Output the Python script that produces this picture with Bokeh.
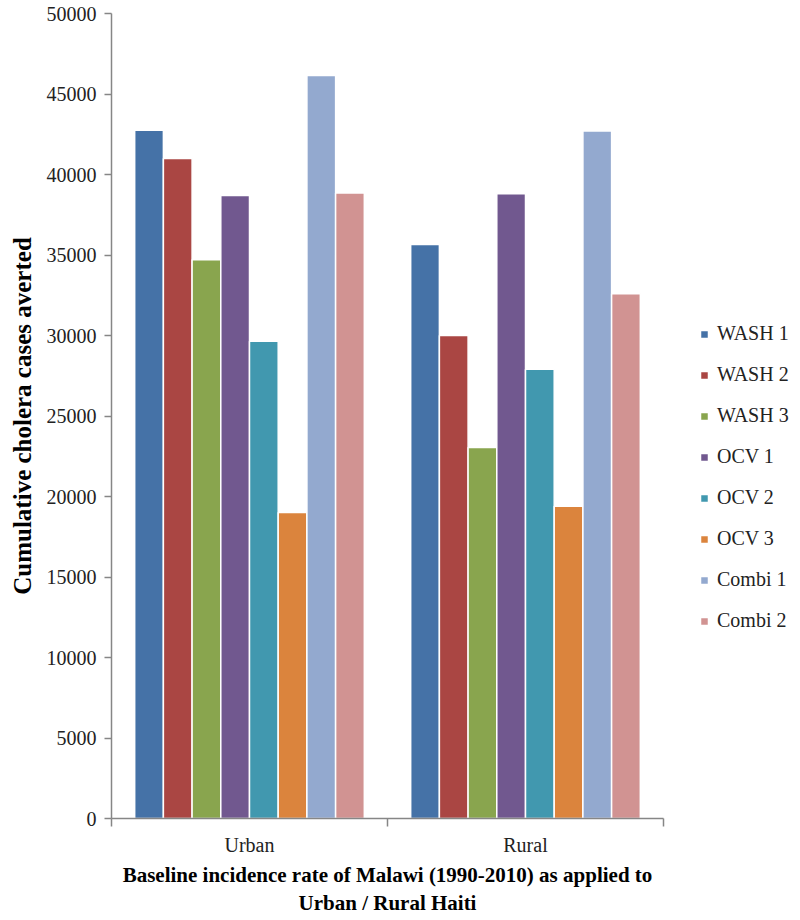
from bokeh.plotting import figure
from bokeh.models import Range1d, FixedTicker, Legend, LegendItem, ColumnDataSource
from bokeh.embed import file_html
from bokeh.resources import INLINE

categories = ["Urban", "Rural"]
series = ["WASH 1", "WASH 2", "WASH 3", "OCV 1", "OCV 2", "OCV 3", "Combi 1", "Combi 2"]
urban = [42750, 41000, 34700, 38700, 29650, 19000, 46150, 38850]
rural = [35650, 30000, 23050, 38800, 27900, 19400, 42700, 32600]
colors = ["#4572A7", "#AA4643", "#89A54E", "#71588F", "#4198AF", "#DB843D", "#93A9CF", "#D19392"]
y_ticks = [0, 5000, 10000, 15000, 20000, 25000, 30000, 35000, 40000, 45000, 50000]

FONT = "Liberation Serif"
AXIS_COLOR = "#868686"

p = figure(frame_width=552, frame_height=805,
           x_range=Range1d(0, len(categories)), y_range=Range1d(0, 50000),
           output_backend="svg", toolbar_location=None,
           min_border_top=13, min_border_left=111, min_border_right=0, min_border_bottom=0)
p.outline_line_color = None
p.xgrid.visible = False
p.ygrid.visible = False

slot = 0.104
renderers = []
for j, name in enumerate(series):
    vals = [urban[j], rural[j]]
    src = ColumnDataSource(dict(x=[i + 0.5 + (j - 3.5) * slot for i in range(len(categories))], top=vals))
    r = p.vbar(x="x", top="top", width=slot, source=src, fill_color=colors[j],
               line_color="white", line_width=1.5)
    renderers.append(r)

# Y axis
ya = p.yaxis[0]
ya.ticker = FixedTicker(ticks=y_ticks)
ya.major_label_overrides = {t: str(t) for t in y_ticks}
ya.major_tick_out = 7
ya.major_tick_in = 0
ya.minor_tick_line_color = None
ya.axis_line_color = AXIS_COLOR
ya.axis_line_width = 1.5
ya.major_tick_line_color = AXIS_COLOR
ya.major_tick_line_width = 1.5
ya.major_label_text_font = FONT
ya.major_label_text_font_size = "20px"
ya.major_label_text_color = "#222222"
ya.major_label_standoff = 8
ya.axis_label = "Cumulative cholera cases averted"
ya.axis_label_text_font = FONT
ya.axis_label_text_font_style = "bold"
ya.axis_label_text_font_size = "25px"
ya.axis_label_text_color = "#000000"
ya.axis_label_standoff = 8

# X axis
xa = p.xaxis[0]
xa.ticker = FixedTicker(ticks=[i + 0.5 for i in range(len(categories))],
                        minor_ticks=list(range(len(categories) + 1)))
xa.major_label_overrides = {i + 0.5: c for i, c in enumerate(categories)}
xa.major_tick_line_color = None
xa.major_tick_out = 8
xa.major_tick_in = 0
xa.minor_tick_out = 8
xa.minor_tick_in = 0
xa.minor_tick_line_color = AXIS_COLOR
xa.minor_tick_line_width = 1.5
xa.axis_line_color = AXIS_COLOR
xa.axis_line_width = 1.5
xa.major_label_text_font = FONT
xa.major_label_text_font_size = "20px"
xa.major_label_text_color = "#222222"
xa.major_label_standoff = 7
xa.axis_label = "Baseline incidence rate of Malawi (1990-2010) as applied to\nUrban / Rural Haiti"
xa.axis_label_text_font = FONT
xa.axis_label_text_font_style = "bold"
xa.axis_label_text_font_size = "21px"
xa.axis_label_text_color = "#000000"
xa.axis_label_standoff = 4

legend = Legend(items=[LegendItem(label=s, renderers=[r]) for s, r in zip(series, renderers)],
                location=(36, 186),
                label_text_font=FONT, label_text_font_size="20px", label_text_color="#222222",
                glyph_width=10, glyph_height=10, label_standoff=8,
                spacing=18, padding=4, border_line_color=None, background_fill_alpha=0)
p.add_layout(legend, "right")

open("out.html", "w").write(file_html(p, INLINE))
